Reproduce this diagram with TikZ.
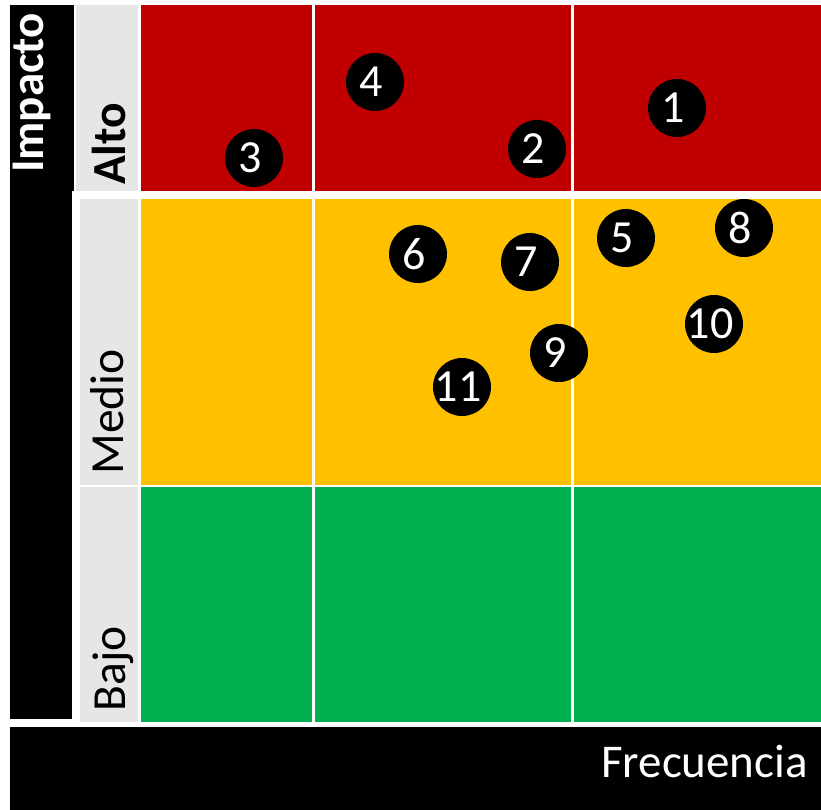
\documentclass[tikz,border=0pt]{standalone}
\usepackage{fontspec}
\setmainfont{Carlito}
\definecolor{rred}{HTML}{C00000}
\definecolor{ryel}{HTML}{FFC000}
\definecolor{rgrn}{HTML}{00B050}
\definecolor{lgray}{HTML}{E6E6E6}
\tikzset{
  risk/.style={circle, fill=black, minimum size=58pt, inner sep=0pt, text=white,
    font=\fontsize{46}{50}\selectfont},
  axislbl/.style={inner sep=0pt, font=\fontsize{47.5}{52}\selectfont},
}
\newcommand{\num}[1]{\hspace*{-8pt}#1}
\begin{document}
\begin{tikzpicture}[x=1pt,y=-1pt]
\useasboundingbox (0,0) rectangle (821,810);
\fill[white] (0,0) rectangle (821,810);
% black bars
\fill[black] (10,5) rectangle (74,191);
\fill[black] (10,191) rectangle (72,719);
\fill[black] (10,727) rectangle (821,810);
% gray label column
\fill[lgray] (76,5) rectangle (138,191);
\fill[lgray] (80,199) rectangle (138,485);
\fill[lgray] (80,487) rectangle (138,722);
% cells
\foreach \xa/\xb in {141/312, 315/571, 574/821}{
  \fill[rred] (\xa,5) rectangle (\xb,191);
  \fill[ryel] (\xa,199) rectangle (\xb,485);
  \fill[rgrn] (\xa,487) rectangle (\xb,722);
}
% labels
\node[axislbl, rotate=90, anchor=base, text=white, font=\fontsize{47}{52}\selectfont\bfseries] (imp) at (43,93) {Impacto};
\node[axislbl, rotate=90, anchor=base, font=\fontsize{47.5}{52}\selectfont\bfseries] (alto) at (125,144) {Alto};
\node[axislbl, rotate=90, anchor=base] (medio) at (123,412) {Medio};
\node[axislbl, rotate=90, anchor=base] (bajo) at (125,669) {Bajo};
\node[axislbl, anchor=base east, text=white, font=\fontsize{47}{52}\selectfont] (frec) at (808,777) {Frecuencia};
% risks
\node[risk] (r1) at (677,108) {\num{1}};
\node[risk] (r2) at (537,149) {\num{2}};
\node[risk] (r3) at (254,158) {\num{3}};
\node[risk] (r4) at (375,82) {\num{4}};
\node[risk] (r5) at (626,238) {\num{5}};
\node[risk] (r6) at (418,254) {\num{6}};
\node[risk] (r7) at (530,262) {\num{7}};
\node[risk] (r8) at (744,228) {\num{8}};
\node[risk] (r9) at (559,353) {\num{9}};
\node[risk] (r10) at (714,324) {\num{10}};
\node[risk] (r11) at (462,387) {\num{11}};
\end{tikzpicture}
\end{document}
